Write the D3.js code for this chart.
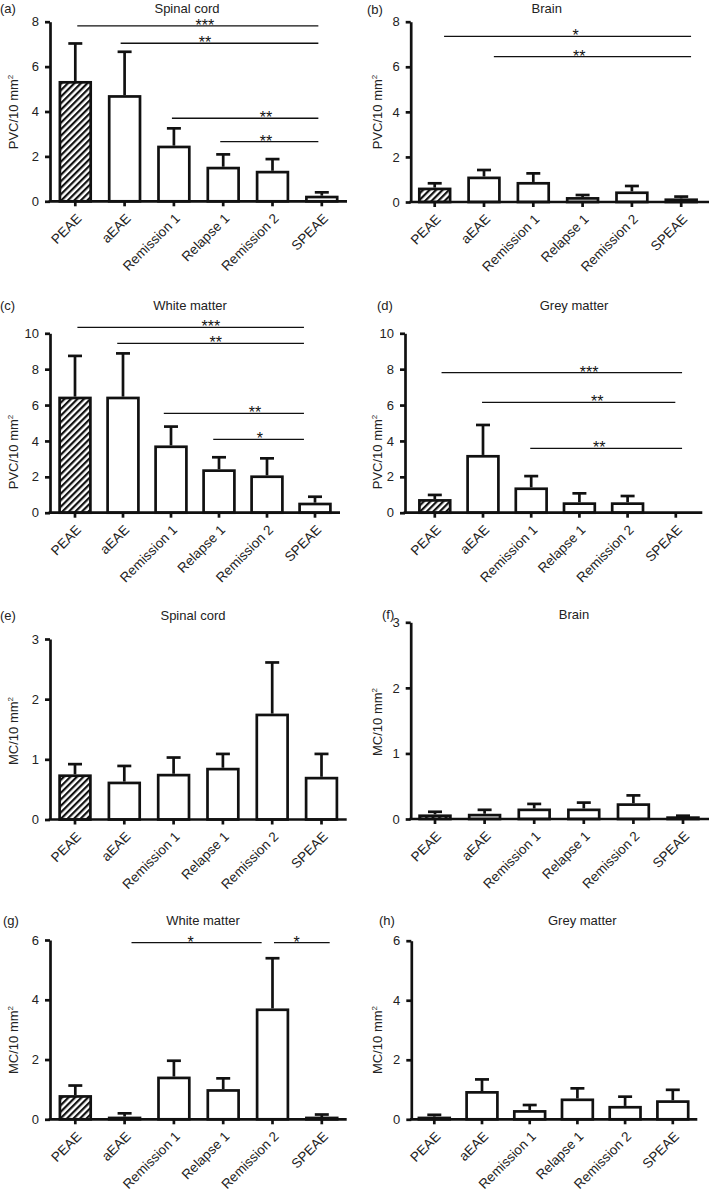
<!DOCTYPE html>
<html>
<head>
<meta charset="utf-8">
<script src="https://cdn.jsdelivr.net/npm/d3@7"></script>
<style>
  html, body { margin: 0; padding: 0; background: #fff; }
  svg { display: block; font-family: "Liberation Sans", Arial, Helvetica, sans-serif; }
</style>
</head>
<body>
<svg id="chart" width="709" height="1191"></svg>
<script>
// ---------------- DATA ----------------
const categories = ["PEAE", "aEAE", "Remission 1", "Relapse 1", "Remission 2", "SPEAE"];

const panelLetters = ["(a)", "(b)", "(c)", "(d)", "(e)", "(f)", "(g)", "(h)"];
const panelTitles = ["Spinal cord", "Brain", "White matter", "Grey matter",
                     "Spinal cord", "Brain", "White matter", "Grey matter"];
const yLabels = ["PVC/10 mm", "PVC/10 mm", "PVC/10 mm", "PVC/10 mm",
                 "MC/10 mm", "MC/10 mm", "MC/10 mm", "MC/10 mm"];
const yMax = [8, 8, 10, 10, 3, 3, 6, 6];
const yTicks = [
  [0, 2, 4, 6, 8], [0, 2, 4, 6, 8],
  [0, 2, 4, 6, 8, 10], [0, 2, 4, 6, 8, 10],
  [0, 1, 2, 3], [0, 1, 2, 3],
  [0, 2, 4, 6], [0, 2, 4, 6]
];

// means
const pvcSpinalMean = [5.36, 4.73, 2.48, 1.54, 1.36, 0.25];
const pvcBrainMean  = [0.64, 1.13, 0.89, 0.22, 0.47, 0.16];
const pvcWhiteMean  = [6.47, 6.47, 3.75, 2.42, 2.08, 0.56];
const pvcGreyMean   = [0.76, 3.22, 1.41, 0.58, 0.58, 0.00];
const mcSpinalMean  = [0.75, 0.63, 0.76, 0.86, 1.76, 0.71];
const mcBrainMean   = [0.07, 0.08, 0.16, 0.16, 0.24, 0.035];
const mcWhiteMean   = [0.81, 0.09, 1.43, 1.01, 3.71, 0.06];
const mcGreyMean    = [0.09, 0.95, 0.31, 0.70, 0.45, 0.64];

// SEM (upper error bars)
const pvcSpinalSem = [1.67, 1.93, 0.77, 0.55, 0.52, 0.15];
const pvcBrainSem  = [0.19, 0.29, 0.38, 0.09, 0.24, 0.08];
const pvcWhiteSem  = [2.27, 2.41, 1.05, 0.67, 0.95, 0.33];
const pvcGreySem   = [0.23, 1.67, 0.63, 0.50, 0.35, 0.00];
const mcSpinalSem  = [0.17, 0.26, 0.27, 0.23, 0.85, 0.38];
const mcBrainSem   = [0.04, 0.06, 0.07, 0.09, 0.12, 0.015];
const mcWhiteSem   = [0.32, 0.11, 0.53, 0.36, 1.68, 0.10];
const mcGreySem    = [0.06, 0.39, 0.17, 0.34, 0.31, 0.35];

// significance brackets: [fromIndex, toIndex, yValue, label, labelAtIndex]
const sigA = [[0.04, 4.93, 7.81, "***", 2.63], [0.92, 4.93, 7.04, "**", 2.63],
              [1.96, 4.93, 3.70, "**", 3.87], [2.94, 4.93, 2.66, "**", 3.87]];
const sigB = [[0.19, 5.2, 7.35, "*", 2.86], [1.2, 5.2, 6.45, "**", 2.93]];
const sigC = [[0.05, 4.77, 10.33, "***", 2.83], [0.88, 4.77, 9.44, "**", 2.93],
              [1.85, 4.77, 5.54, "**", 3.75], [2.88, 4.77, 4.09, "*", 3.85]];
const sigD = [[0.14, 5.13, 7.81, "***", 3.2], [0.98, 4.99, 6.15, "**", 3.37],
              [1.98, 5.13, 3.59, "**", 3.41]];
const sigE = [];
const sigF = [];
const sigG = [[1.14, 3.78, 5.91, "*", 2.34], [4.03, 5.16, 5.91, "*", 4.49]];
const sigH = [];

const means = [pvcSpinalMean, pvcBrainMean, pvcWhiteMean, pvcGreyMean,
               mcSpinalMean, mcBrainMean, mcWhiteMean, mcGreyMean];
const sems = [pvcSpinalSem, pvcBrainSem, pvcWhiteSem, pvcGreySem,
              mcSpinalSem, mcBrainSem, mcWhiteSem, mcGreySem];
const sigs = [sigA, sigB, sigC, sigD, sigE, sigF, sigG, sigH];

// ---------------- LAYOUT ----------------
const layout = [
  {ax: 50,    y0: 201.3,  yt: 21.7,  c0: 75.3,  st: 49.3, ae: 347,   tx: 187,   ty: 13,    lx: 0,   ly: 13,   yl: 18,  ylc: 112},
  {ax: 410.7, y0: 202,    yt: 21.7,  c0: 434.7, st: 49.3, ae: 709,   tx: 546.7, ty: 13,    lx: 367, ly: 14,   yl: 382, ylc: 112},
  {ax: 50,    y0: 512.7,  yt: 333.3, c0: 75,    st: 48,   ae: 340,   tx: 190,   ty: 310,   lx: 0,   ly: 310,  yl: 18,  ylc: 452},
  {ax: 405,   y0: 512.7,  yt: 333.3, c0: 434.8, st: 48.2, ae: 702.3, tx: 574,   ty: 310,   lx: 377, ly: 310,  yl: 382, ylc: 452},
  {ax: 50,    y0: 819.5,  yt: 639,   c0: 75,    st: 49.3, ae: 346.7, tx: 193,   ty: 620,   lx: 0,   ly: 620,  yl: 18,  ylc: 731},
  {ax: 410.7, y0: 819,    yt: 622.3, c0: 435,   st: 49.6, ae: 709,   tx: 574,   ty: 619,   lx: 382, ly: 619,  yl: 382, ylc: 722},
  {ax: 50,    y0: 1119.3, yt: 940,   c0: 75.3,  st: 49.3, ae: 346.7, tx: 203,   ty: 924.5, lx: 3,   ly: 925,  yl: 18,  ylc: 1040},
  {ax: 411.3, y0: 1119.3, yt: 940.7, c0: 434.3, st: 47.7, ae: 697.3, tx: 582.3, ty: 924.5, lx: 379, ly: 925,  yl: 382, ylc: 1040}
];

const BAR_W = 33.5;
const STROKE = 2.7;
const INK = "#111";

const svg = d3.select("#chart");

// hatch pattern
const defs = svg.append("defs");
const HP = 4.6;
const pat = defs.append("pattern")
  .attr("id", "hatch")
  .attr("patternUnits", "userSpaceOnUse")
  .attr("width", HP).attr("height", HP)
  .attr("patternTransform", "rotate(45)");
pat.append("rect").attr("width", HP).attr("height", HP).attr("fill", "#fff");
pat.append("rect").attr("x", 0).attr("y", 0).attr("width", 2.2).attr("height", HP)
  .attr("fill", INK);

layout.forEach((L, p) => {
  const g = svg.append("g");
  const data = categories.map((c, i) => ({cat: c, i, mean: means[p][i], sem: sems[p][i]}));

  const y = d3.scaleLinear().domain([0, yMax[p]]).range([L.y0, L.yt]);
  const pad = 1 - BAR_W / L.st;
  const x = d3.scaleBand().domain(categories)
    .range([L.c0 - L.st / 2, L.c0 + 5.5 * L.st])
    .paddingInner(pad).paddingOuter(pad / 2);
  const cx = c => x(c) + x.bandwidth() / 2;
  const xi = d3.scaleLinear().domain([0, categories.length - 1])
    .range([cx(categories[0]), cx(categories[categories.length - 1])]);

  // error bars
  const eb = g.append("g");
  data.filter(d => d.sem > 0).forEach(d => {
    const xc = cx(d.cat);
    eb.append("line").attr("x1", xc).attr("x2", xc)
      .attr("y1", y(d.mean)).attr("y2", y(d.mean + d.sem))
      .attr("stroke", INK).attr("stroke-width", STROKE);
    eb.append("line").attr("x1", xc - 7).attr("x2", xc + 7)
      .attr("y1", y(d.mean + d.sem)).attr("y2", y(d.mean + d.sem))
      .attr("stroke", INK).attr("stroke-width", STROKE);
  });

  // bars
  g.append("g").selectAll("rect")
    .data(data.filter(d => d.mean > 0))
    .join("rect")
    .attr("x", d => x(d.cat) + STROKE / 2)
    .attr("width", x.bandwidth() - STROKE)
    .attr("y", d => Math.min(y(d.mean) + STROKE / 2, L.y0 - STROKE / 2))
    .attr("height", d => Math.max(L.y0 - y(d.mean) - STROKE / 2, STROKE / 2))
    .attr("fill", d => d.i === 0 ? "url(#hatch)" : "#fff")
    .attr("stroke", INK).attr("stroke-width", STROKE);

  // y axis
  const ya = g.append("g").attr("transform", `translate(${L.ax},0)`)
    .call(d3.axisLeft(y).tickValues(yTicks[p]).tickSize(5).tickSizeOuter(0).tickPadding(6).tickFormat(d3.format("d")));
  ya.select(".domain").attr("stroke", INK).attr("stroke-width", STROKE);
  ya.selectAll(".tick line").attr("stroke", INK).attr("stroke-width", STROKE);
  ya.selectAll(".tick text").attr("font-size", 13).attr("fill", "#222")
    .attr("font-family", "Liberation Sans, Arial, sans-serif");

  // x axis
  const xa = g.append("g").attr("transform", `translate(0,${L.y0})`)
    .call(d3.axisBottom(x).tickSize(5).tickSizeOuter(0));
  xa.select(".domain").remove();
  xa.append("line").attr("x1", L.ax - STROKE / 2).attr("x2", L.ae).attr("y1", 0).attr("y2", 0)
    .attr("stroke", INK).attr("stroke-width", STROKE);
  xa.selectAll(".tick line").attr("stroke", INK).attr("stroke-width", STROKE);
  xa.selectAll(".tick text")
    .attr("font-size", 13.5).attr("fill", "#222")
    .attr("font-family", "Liberation Sans, Arial, sans-serif")
    .attr("text-anchor", "end")
    .attr("dy", null)
    .attr("y", null)
    .attr("transform", "translate(7,18) rotate(-45)");

  // significance
  sigs[p].forEach(s => {
    g.append("line").attr("x1", xi(s[0])).attr("x2", xi(s[1]))
      .attr("y1", y(s[2])).attr("y2", y(s[2]))
      .attr("stroke", INK).attr("stroke-width", 1.3);
    g.append("text").attr("x", xi(s[4])).attr("y", y(s[2]) + 5)
      .attr("text-anchor", "middle").attr("font-size", 16).attr("fill", INK)
      .text(s[3]);
  });

  // title
  g.append("text").attr("x", L.tx).attr("y", L.ty).attr("text-anchor", "middle")
    .attr("font-size", 13).attr("fill", "#222").text(panelTitles[p]);
  // letter
  g.append("text").attr("x", L.lx).attr("y", L.ly)
    .attr("font-size", 13).attr("fill", "#222").text(panelLetters[p]);
  // y label
  const yl = g.append("text")
    .attr("transform", `translate(${L.yl},${L.ylc}) rotate(-90)`)
    .attr("text-anchor", "middle").attr("font-size", 13).attr("fill", "#222");
  yl.append("tspan").text(yLabels[p]);
  yl.append("tspan").attr("font-size", 8).attr("dy", -5).text("2");
});
</script>
</body>
</html>
